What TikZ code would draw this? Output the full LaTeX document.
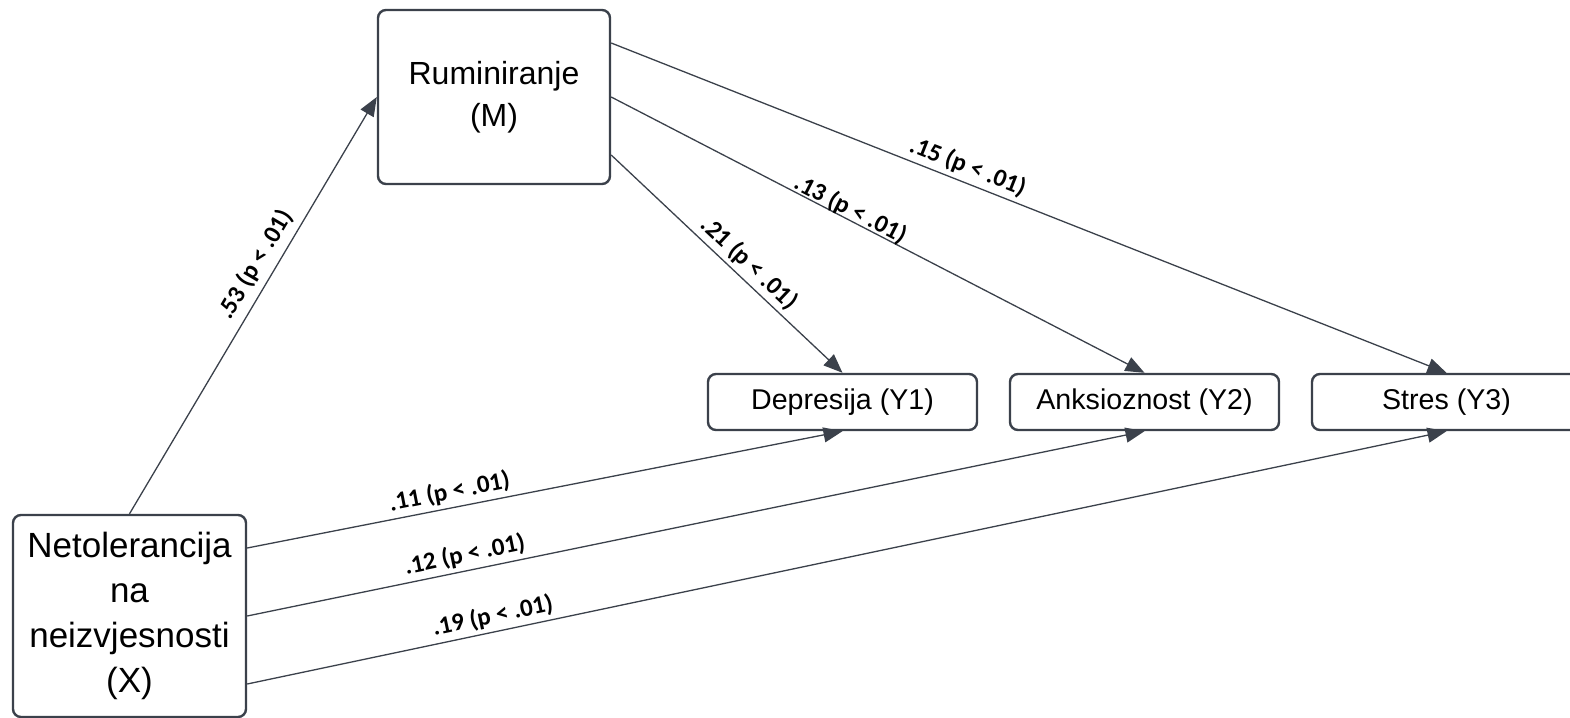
\documentclass[tikz,border=0pt]{standalone}
\usepackage{fontspec}
\setmainfont{Liberation Sans}
\newfontfamily\lblfont{Carlito}
\usetikzlibrary{arrows.meta,positioning}
\definecolor{linegray}{HTML}{3B414B}

\begin{document}
\begin{tikzpicture}[x=0.5pt,y=-0.5pt,node distance=151pt,on grid,
	var/.style={draw=linegray,line width=1.2pt,rounded corners=4pt,align=center,
		font=\fontsize{16}{21}\selectfont},
	outcome/.style={var,minimum width=134.5pt,minimum height=28pt,
		font=\fontsize{14.3}{17}\selectfont},
	coef/.style={sloped,above,inner sep=2pt,
		font=\lblfont\bfseries\fontsize{12.5}{15}\selectfont},
	every edge/.style={draw=linegray,line width=0.65pt},
	>={Triangle[length=9.5pt,width=7.5pt]}]
	\useasboundingbox (0,0) rectangle (1570,718);

	\node[var,minimum width=116.5pt,minimum height=101pt,
		font=\fontsize{17.5}{22.5}\selectfont] (x) at (129.5,616)
		{Netolerancija\\na\\neizvjesnosti\\(X)};
	\node[var,minimum width=116pt,minimum height=87pt] (m) at (494,97)
		{Ruminiranje\\(M)};
	\node[outcome] (y_1) at (842.5,402) {Depresija (Y1)};
	\node[outcome] (y_2) [right=of y_1] {Anksioznost (Y2)};
	\node[outcome] (y_3) [right=of y_2] {Stres (Y3)};


	\path[->]

	(x.north) edge node[coef,pos=0.575,inner sep=3.5pt] {.53 (p < .01)} (m.west)

	([yshift=-29pt]m.east) edge node[coef,pos=0.55] {.21 (p < .01)} (y_1.north)
	(m.east)               edge node[coef,pos=0.44,above=-3pt] {.13 (p < .01)} (y_2.north)
	([yshift=27pt]m.east)  edge node[coef,pos=0.42] {.15 (p < .01)} (y_3.north)

	([yshift=34pt]x.east)  edge node[coef,pos=0.345] {.11 (p < .01)} (y_1.south)
	(x.east)               edge node[coef,pos=0.246] {.12 (p < .01)} (y_2.south)
	([yshift=-34pt]x.east) edge node[coef,pos=0.2075] {.19 (p < .01)} (y_3.south);

\end{tikzpicture}
\end{document}
